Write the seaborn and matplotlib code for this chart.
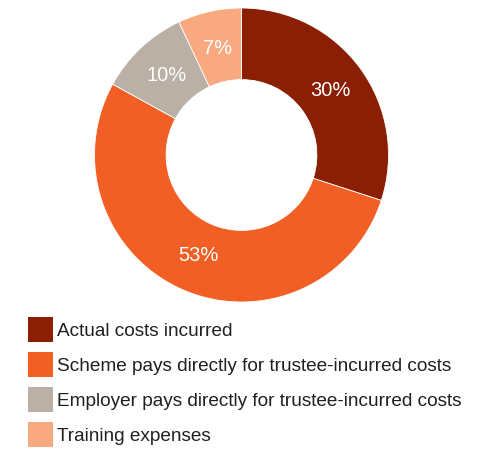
import matplotlib
matplotlib.use("Agg")
import matplotlib.pyplot as plt
import seaborn as sns

categories = [
    "Actual costs incurred",
    "Scheme pays directly for trustee-incurred costs",
    "Employer pays directly for trustee-incurred costs",
    "Training expenses",
]
values = [30, 53, 10, 7]
colors = ["#8A1F03", "#F15F24", "#BAB0A6", "#F8A97F"]

sns.set_theme(style="white")
plt.rcParams['font.family'] = ['Liberation Sans', 'DejaVu Sans']

W, H = 481, 451
fig = plt.figure(figsize=(W / 100, H / 100), dpi=100)
cx, cy, r = 241.5, 155, 147
ax = fig.add_axes([(cx - r) / W, (H - cy - r) / H, 2 * r / W, 2 * r / H])

wedges, texts, autotexts = ax.pie(
    values, colors=colors, startangle=90, counterclock=False, radius=1,
    autopct=lambda p: f"{p:.0f}%", pctdistance=0.745,
    wedgeprops=dict(width=0.487, edgecolor="white", linewidth=0.6),
    textprops=dict(color="white", fontsize=14.5),
)
ax.set_xlim(-1, 1)
ax.set_ylim(-1, 1)
ax.set_aspect("equal")
ax.axis("off")

fs = 13.7
px = fs * 100 / 72
box = 25.0
hh = (box / px - 0.245) / 0.65
ls = 10 / px
leg = fig.legend(
    wedges, categories, loc="upper left",
    bbox_to_anchor=(28 / W, 1 - 317 / H), bbox_transform=fig.transFigure,
    frameon=False, fontsize=fs, borderpad=0, borderaxespad=0,
    handlelength=box / px, handleheight=hh, labelspacing=ls,
    handletextpad=4 / px,
)
for t in leg.get_texts():
    t.set_color("#231F20")
for h in leg.legend_handles:
    h.set_edgecolor("none")

fig.savefig("out.png", dpi=100)
